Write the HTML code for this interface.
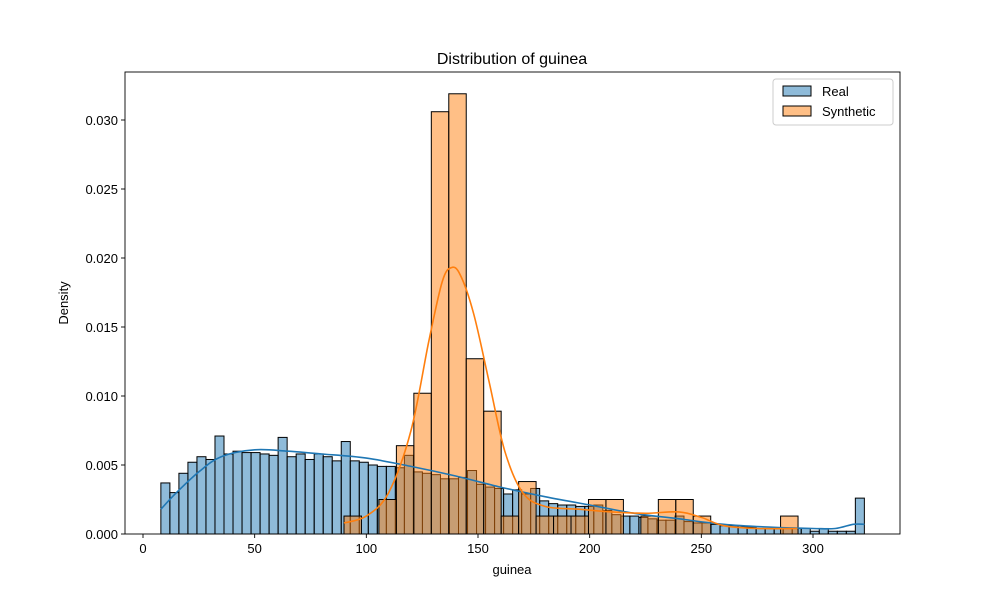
<!DOCTYPE html>
<html><head><meta charset="utf-8"><style>
body{margin:0;background:#fff}
svg{font-family:"Liberation Sans","DejaVu Sans",sans-serif}
</style></head><body>
<svg id="chart" width="1000" height="600" xmlns="http://www.w3.org/2000/svg">
<rect width="1000" height="600" fill="#fff"/>
</svg>
<script>
const realStart = 8, realEnd = 323;
const realValues = [0.0037,0.0030,0.0044,0.0052,0.0056,0.0054,0.0071,0.0058,0.0060,0.0059,0.0059,0.0058,0.0057,0.0070,0.0056,0.0058,0.0054,0.0058,0.0056,0.0053,0.0067,0.0053,0.0052,0.0050,0.0049,0.0049,0.0048,0.0057,0.0045,0.0044,0.0043,0.0040,0.0040,0.0041,0.0046,0.0036,0.0034,0.0033,0.0029,0.0032,0.0029,0.0033,0.0024,0.0022,0.0021,0.0021,0.0020,0.0020,0.0021,0.0017,0.0014,0.0013,0.0013,0.0012,0.0011,0.0010,0.0010,0.0013,0.0009,0.0008,0.0008,0.0007,0.0006,0.0006,0.0005,0.0005,0.0004,0.0004,0.0004,0.0004,0.0004,0.0004,0.0002,0.0004,0.0002,0.0002,0.0002,0.0026];
const synStart = 90, synEnd = 293.3;
const synValues = [0.0013,0,0.0025,0.0064,0.0102,0.0306,0.0319,0.0127,0.0089,0.0013,0.0038,0.0013,0.0013,0.0013,0.0025,0.0025,0,0.0013,0.0025,0.0025,0.0013,0,0,0,0,0.0013];
const realKdeX = [8,15,25,35,50,65,80,100,120,140,160,180,200,220,240,260,280,300,310,318,323];
const realKdeY = [0.0018,0.0030,0.0045,0.0056,0.0061,0.0060,0.0058,0.0055,0.0049,0.0042,0.0034,0.0027,0.0021,0.0015,0.0011,0.0007,0.0005,0.0004,0.0004,0.0007,0.0007];
const synKdeX = [90,100,110,120,128,134,138,142,148,155,162,170,180,195,210,225,240,250,260,275,293];
const synKdeY = [0.0008,0.0013,0.0030,0.0075,0.0140,0.0183,0.0193,0.0188,0.0160,0.0110,0.0060,0.0030,0.0020,0.0018,0.0016,0.0015,0.0016,0.0012,0.0006,0.0004,0.0004];
const xTicks = [0,50,100,150,200,250,300];
const yTicks = [0,0.005,0.010,0.015,0.020,0.025,0.030];
const yTickLabels = ["0.000","0.005","0.010","0.015","0.020","0.025","0.030"];

const L=125,R=900,T=72,B=534;
const xs = v => 143 + v*(813-143)/300;
const ys = v => 534 - v*13800;
const NS="http://www.w3.org/2000/svg";
const svg=document.getElementById('chart');
function mk(tag,attrs,parent){const e=document.createElementNS(NS,tag);for(const k in attrs)e.setAttribute(k,attrs[k]);(parent||svg).appendChild(e);return e;}

function hist(start,end,vals,fill,name){
  const w=(end-start)/vals.length;
  const g=mk('g',{});
  
  
  vals.forEach((v,i)=>{
    if(v<=0)return;
    const x0=xs(start+i*w),x1=xs(start+(i+1)*w);
    const r=mk('rect',{x:x0,y:ys(v),width:x1-x0,height:ys(0)-ys(v),fill:fill,stroke:'#000','stroke-width':1},g);
    
    
  });
}
hist(realStart,realEnd,realValues,'rgba(31,119,180,0.5)','real');
hist(synStart,synEnd,synValues,'rgba(255,127,14,0.5)','synthetic');

function line(xa,ya,col,name){
  const P=xa.map((x,i)=>[xs(x),ys(ya[i])]);
  let d='M'+P[0][0].toFixed(1)+' '+P[0][1].toFixed(1);
  for(let i=0;i<P.length-1;i++){
    const p0=P[Math.max(0,i-1)],p1=P[i],p2=P[i+1],p3=P[Math.min(P.length-1,i+2)];
    const c1=[p1[0]+(p2[0]-p0[0])/6,p1[1]+(p2[1]-p0[1])/6];
    const c2=[p2[0]-(p3[0]-p1[0])/6,p2[1]-(p3[1]-p1[1])/6];
    d+=' C'+c1[0].toFixed(1)+' '+c1[1].toFixed(1)+' '+c2[0].toFixed(1)+' '+c2[1].toFixed(1)+' '+p2[0].toFixed(1)+' '+p2[1].toFixed(1);
  }
  const p=mk('path',{d:d,fill:'none',stroke:col,'stroke-width':1.6,'stroke-linejoin':'round'});
  
  
}
line(realKdeX,realKdeY,'#1f77b4','real-kde-line');
line(synKdeX,synKdeY,'#ff7f0e','synthetic-kde-line');

const frame=mk('rect',{x:L,y:T,width:R-L,height:B-T,fill:'none',stroke:'#000','stroke-width':0.9});



xTicks.forEach(t=>{
  const x=xs(t);
  mk('line',{x1:x,x2:x,y1:B,y2:B+4,stroke:'#000','stroke-width':0.9});
  const tx=mk('text',{x:x,y:B+19,'font-size':13,'text-anchor':'middle'});
  tx.textContent=t;
  
  
});
yTicks.forEach((t,i)=>{
  const y=ys(t);
  mk('line',{x1:L-4,x2:L,y1:y,y2:y,stroke:'#000','stroke-width':0.9});
  const tx=mk('text',{x:L-7,y:y+5,'font-size':13,'text-anchor':'end'});
  tx.textContent=yTickLabels[i];
  
  
});
</script>
<svg style="position:absolute;left:0;top:0" width="1000" height="600" xmlns="http://www.w3.org/2000/svg" font-family="Liberation Sans, DejaVu Sans, sans-serif">
<text x="512" y="64" font-size="16" text-anchor="middle">Distribution of guinea</text>
<text x="512" y="574" font-size="13" text-anchor="middle">guinea</text>
<text transform="translate(68,303) rotate(-90)" font-size="13" text-anchor="middle">Density</text>
<g>
<rect x="773" y="79" width="120" height="46" rx="3" fill="#fff" fill-opacity="0.8" stroke="#ccc"/>
<rect x="783" y="86" width="28" height="10" fill="rgba(31,119,180,0.5)" stroke="#000"/>
<text x="822" y="96" font-size="13">Real</text>
<rect x="783" y="106" width="28" height="10" fill="rgba(255,127,14,0.5)" stroke="#000"/>
<text x="822" y="116" font-size="13">Synthetic</text>
</g>
</svg>
</body></html>
